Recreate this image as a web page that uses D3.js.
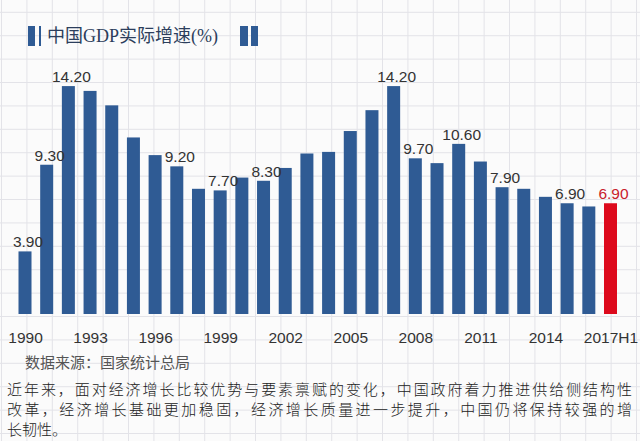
<!DOCTYPE html>
<html>
<head>
<meta charset="utf-8">
<script src="https://cdn.jsdelivr.net/npm/d3@7"></script>
<style>
  html, body { margin: 0; padding: 0; background: #fbfbfb; }
  svg { display: block; }
</style>
</head>
<body>
<div id="chart"></div>
<script>
// China real GDP growth, 1990 - 2017H1

const years = ['1990', '1991', '1992', '1993', '1994', '1995', '1996', '1997', '1998', '1999',
  '2000', '2001', '2002', '2003', '2004', '2005', '2006', '2007', '2008', '2009',
  '2010', '2011', '2012', '2013', '2014', '2015', '2016', '2017H1'];
const growth = [3.9, 9.3, 14.2, 13.9, 13.0, 11.0, 9.9, 9.2, 7.8, 7.7,
  8.5, 8.3, 9.1, 10.0, 10.1, 11.4, 12.7, 14.2, 9.7, 9.4,
  10.6, 9.5, 7.9, 7.8, 7.3, 6.9, 6.7, 6.9];
const labelledYears = ['1990', '1991', '1992', '1997', '1999', '2001', '2007', '2008', '2010', '2012', '2015', '2017H1'];
const tickYears = ['1990', '1993', '1996', '1999', '2002', '2005', '2008', '2011', '2014', '2017H1'];
const highlightYear = '2017H1';

const title = '中国GDP实际增速(%)';
const source = '数据来源：国家统计总局';
const noteLines = [
  '近年来，面对经济增长比较优势与要素禀赋的变化，中国政府着力推进供给侧结构性',
  '改革，经济增长基础更加稳固，经济增长质量进一步提升，中国仍将保持较强的增',
  '长韧性。'
];

const W = 640, H = 441;
const BLUE = '#2f5b94', RED = '#dd0a1c';

const svg = d3.select('#chart').append('svg')
  .attr('width', W)
  .attr('height', H);

// graph paper background
const grid = svg.append('g');
grid.selectAll('line.v')
  .data(d3.range(1.5, W, 25.4))
  .enter().append('line')
  .attr('x1', d => d).attr('x2', d => d)
  .attr('y1', 0).attr('y2', H)
  .attr('stroke', '#e3e3e8').attr('stroke-width', 1);
grid.selectAll('line.h')
  .data(d3.range(12.3, H, 23.4))
  .enter().append('line')
  .attr('y1', d => d).attr('y2', d => d)
  .attr('x1', 0).attr('x2', W)
  .attr('stroke', '#e3e3e8').attr('stroke-width', 1);

// title with markers
svg.append('rect').attr('x', 28).attr('y', 26).attr('width', 7).attr('height', 20).attr('fill', BLUE);
svg.append('rect').attr('x', 39).attr('y', 26).attr('width', 2).attr('height', 20).attr('fill', BLUE);
svg.append('text')
  .attr('x', 47).attr('y', 42)
  .attr('font-family', '"Liberation Serif", "Noto Sans CJK SC", serif')
  .attr('font-size', 18)
  .attr('fill', '#2c3e5c')
  .text(title);
svg.append('rect').attr('x', 240).attr('y', 26).attr('width', 8).attr('height', 20).attr('fill', BLUE);
svg.append('rect').attr('x', 251).attr('y', 26).attr('width', 7).attr('height', 20).attr('fill', BLUE);

// scales
const x = d3.scalePoint().domain(years).range([25, 610.5]);
const y = d3.scaleLinear().domain([0, 15]).range([314, 314 - 15 * 16.05]);
const BAR_W = 13;

const data = years.map((yr, i) => ({ year: yr, value: growth[i] }));

svg.append('g').selectAll('rect')
  .data(data)
  .enter().append('rect')
  .attr('x', d => x(d.year) - BAR_W / 2)
  .attr('y', d => y(d.value))
  .attr('width', BAR_W)
  .attr('height', d => y(0) - y(d.value))
  .attr('fill', d => d.year === highlightYear ? RED : BLUE);

svg.append('g').selectAll('text')
  .data(data.filter(d => labelledYears.includes(d.year)))
  .enter().append('text')
  .attr('x', d => x(d.year) + 3)
  .attr('y', d => y(d.value) - 4)
  .attr('text-anchor', 'middle')
  .attr('font-family', '"Liberation Sans", Arial, sans-serif')
  .attr('font-size', 15.5)
  .attr('fill', d => d.year === highlightYear ? '#c8202c' : '#333')
  .text(d => d.value.toFixed(2));

// x axis labels
const xAxis = d3.axisBottom(x).tickValues(tickYears).tickSize(0).tickPadding(0);
const axisG = svg.append('g').attr('transform', 'translate(0,' + 332 + ')').call(xAxis);
axisG.select('.domain').remove();
axisG.selectAll('text')
  .attr('dy', '0.72em')
  .attr('font-family', '"Liberation Sans", Arial, sans-serif')
  .attr('font-size', 15.5)
  .attr('fill', '#333');

// source
svg.append('text')
  .attr('x', 25).attr('y', 368)
  .attr('font-family', '"Noto Sans CJK SC", sans-serif')
  .attr('font-size', 15)
  .attr('fill', '#555')
  .text(source);

// note
svg.append('g').selectAll('text')
  .data(noteLines)
  .enter().append('text')
  .attr('x', 7)
  .attr('y', (d, i) => 395 + i * 20)
  .attr('font-family', '"Noto Sans CJK SC", sans-serif')
  .attr('font-weight', 300)
  .attr('font-size', 15)
  .attr('fill', '#222')
  .each(function (d, i) {
    if (i < 2) d3.select(this).attr('textLength', 625).attr('lengthAdjust', 'spacing');
  })
  .text(d => d);
</script>
</body>
</html>
